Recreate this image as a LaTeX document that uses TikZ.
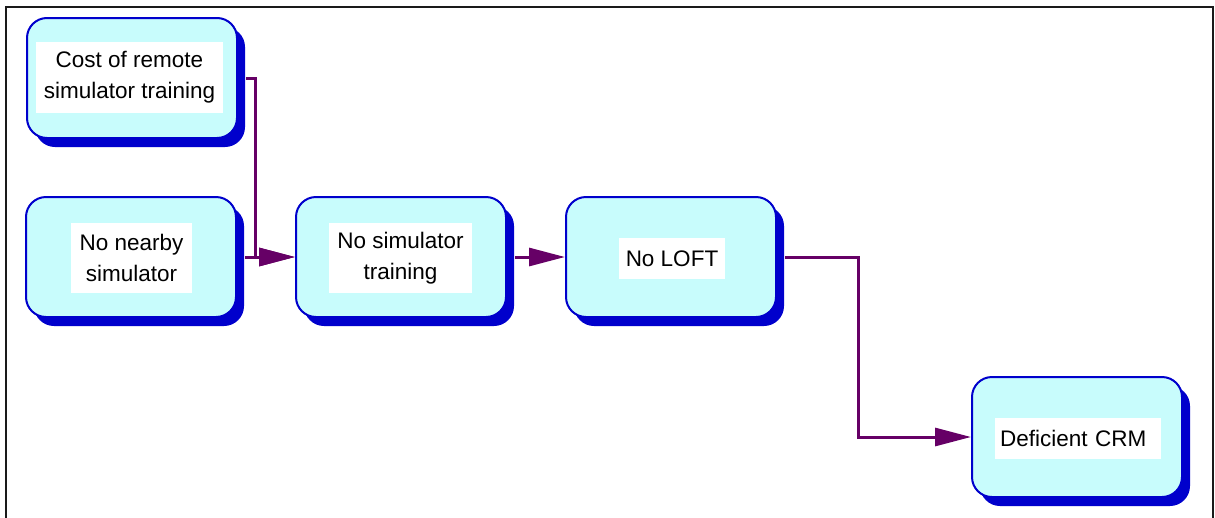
\documentclass[tikz,border=0pt]{standalone}
\usepackage{fontspec}
\setmainfont{Liberation Sans}
\usetikzlibrary{arrows.meta,shadows}

\definecolor{boxfill}{HTML}{C8FCFC}
\definecolor{boxblue}{HTML}{0000CC}
\definecolor{linkpurple}{HTML}{660066}
\definecolor{framegray}{HTML}{1A1A1A}

\tikzset{
  stepbox/.style={
    draw=boxblue, line width=2pt, fill=boxfill,
    rounded corners=20pt, minimum width=210pt, minimum height=120pt,
    inner sep=0pt,
    drop shadow={shadow xshift=8pt, shadow yshift=-9pt, fill=boxblue, opacity=1}
  },
  lbl/.style={
    fill=white, inner sep=0pt, align=center,
    font=\fontsize{22.5}{31}\selectfont
  },
  link/.style={
    draw=linkpurple, line width=3pt,
    -{Triangle[length=36pt,width=18pt]}
  }
}

\begin{document}
\begin{tikzpicture}[x=1pt,y=-1pt]
\useasboundingbox (0,0) rectangle (1215,517);

% outer frame (bottom edge runs off the page)
\draw[framegray, line width=2pt] (6,530) -- (6,7) -- (1213,7) -- (1213,530);

% boxes
\node[stepbox] (b1) at (132,78)   {};
\node[stepbox] (b2) at (131,257)  {};
\node[stepbox] (b3) at (401,257)  {};
\node[stepbox] (b4) at (671,257)  {};
\node[stepbox] (b5) at (1077,437) {};

% captions on white panels
\node[lbl, minimum width=187pt, minimum height=71pt] (t1) at (129.5,77.5)
  {\raisebox{-2pt}{Cost of remote}\\\raisebox{-2pt}{simulator training}};
\node[lbl, minimum width=121pt, minimum height=70pt] (t2) at (131.5,258)
  {No nearby\\simulator};
\node[lbl, minimum width=143pt, minimum height=70pt] (t3) at (400.5,258)
  {No simulator\\training};
\node[lbl, minimum width=106pt, minimum height=41pt] (t4) at (672,258.5)
  {No LOFT};
\node[lbl, anchor=west, inner xsep=5pt, text width=156pt, align=left,
      minimum height=41pt] (t5) at (995,438.5) {Deficient CRM};

% connectors
\draw[link] ([xshift=8pt]b1.east) -- ++(9,0) |- (b3.west);
\draw[link] ([xshift=8pt]b2.east) -- (b3.west);
\draw[link] ([xshift=8pt]b3.east) -- (b4.west);
\draw[link] ([xshift=8pt]b4.east) -- ++(73,0) |- (b5.west);
\end{tikzpicture}
\end{document}
